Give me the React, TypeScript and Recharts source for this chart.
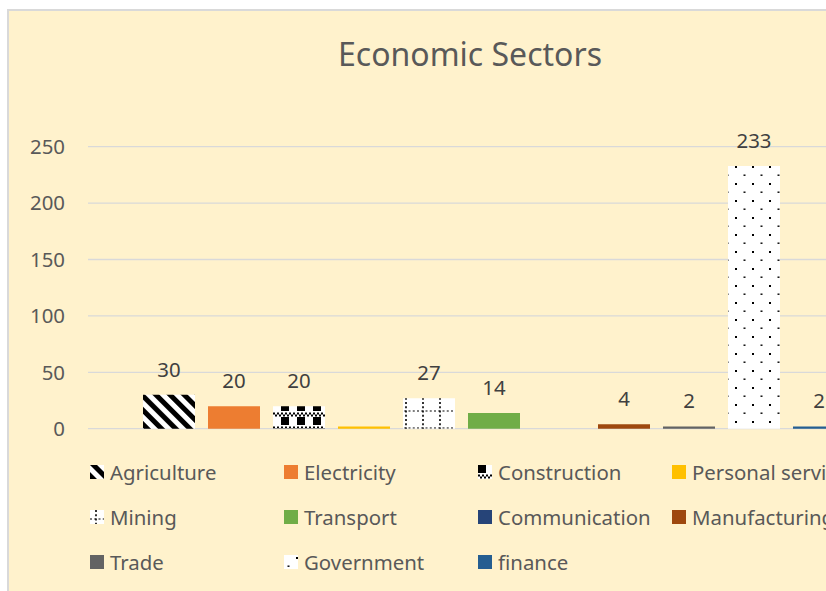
import React from 'react'
import { BarChart, Bar, XAxis, YAxis, CartesianGrid, LabelList } from 'recharts'

const sectors = [
  'Agriculture',
  'Electricity',
  'Construction',
  'Personal services',
  'Mining',
  'Transport',
  'Communication',
  'Manufacturing',
  'Trade',
  'Government',
  'finance'
]
const counts = [30, 20, 20, 2, 27, 14, 0, 4, 2, 233, 2]
const labelShown = [true, true, true, false, true, true, false, true, true, true, true]
const fills = [
  'url(#pAgri)',
  '#ED7D31',
  'url(#pCons)',
  '#FFC000',
  'url(#pMin)',
  '#70AD47',
  '#264478',
  '#9E480E',
  '#636363',
  'url(#pGov)',
  '#255E91'
]
const yTicks = [0, 50, 100, 150, 200, 250]

const chartData = [
  { name: 'Sectors', ...Object.fromEntries(sectors.map((s, i) => [s, counts[i]])) }
]

const FONT = '"Noto Sans", sans-serif'
const TEXT = '#595959'

// svg fill patterns, shared by the bars and the legend keys
function Patterns() {
  const checker = []
  for (let i = 0; i < 8; i++) {
    for (let j = 0; j < 2; j++) {
      if ((i + j) % 2 === 0) {
        checker.push(<rect key={`${i}-${j}`} x={i * 2} y={9.5 + j * 2} width={2} height={2} fill="#000" />)
      }
    }
  }
  return (
    <svg width={0} height={0} style={{ position: 'absolute' }}>
      <defs>
        <pattern id="pAgri" patternUnits="userSpaceOnUse" width={10} height={10} patternTransform="rotate(-45)">
          <rect width={10} height={10} fill="#fff" />
          <rect width={5} height={10} fill="#000" />
        </pattern>
        <pattern id="pCons" patternUnits="userSpaceOnUse" width={16} height={14}>
          <rect width={16} height={14} fill="#fff" />
          <rect width={8} height={8} fill="#000" />
          {checker}
        </pattern>
        <pattern id="pMin" patternUnits="userSpaceOnUse" width={17} height={17}>
          <rect width={17} height={17} fill="#fff" />
          <line x1={6} y1={0} x2={6} y2={17} stroke="#000" strokeWidth={1.6} strokeDasharray="2 2.25" />
          <line x1={0} y1={9} x2={17} y2={9} stroke="#000" strokeWidth={1.2} strokeDasharray="2 2.25" />
        </pattern>
        <pattern id="pGov" patternUnits="userSpaceOnUse" width={17} height={17}>
          <rect width={17} height={17} fill="#fff" />
          <rect x={12} y={2} width={2} height={2} fill="#000" />
          <rect x={3.5} y={10.5} width={2} height={1.4} fill="#000" />
        </pattern>
      </defs>
    </svg>
  )
}

function SectorLegend() {
  return (
    <div
      style={{
        position: 'absolute',
        left: 81,
        top: 438,
        width: 776,
        display: 'flex',
        flexWrap: 'wrap',
        fontFamily: FONT,
        fontSize: 20.4,
        color: TEXT
      }}
    >
      {sectors.map((s, i) => (
        <div key={s} style={{ width: 194, height: 45, display: 'flex', alignItems: 'center', whiteSpace: 'nowrap' }}>
          <svg width={14} height={14} style={{ marginRight: 6, flex: 'none' }}>
            <rect width={14} height={14} fill={fills[i]} />
          </svg>
          <span>{s}</span>
        </div>
      ))}
    </div>
  )
}

export default function App() {
  return (
    <div style={{ position: 'fixed', left: 0, top: 0, width: 826, height: 591, overflow: 'hidden', background: '#fff' }}>
      <Patterns />
      <div
        style={{
          position: 'absolute',
          left: 7,
          top: 9,
          width: 922,
          height: 600,
          borderLeft: '2px solid #D9D9D9',
          borderTop: '2px solid #D9D9D9',
          borderRight: '2px solid #D9D9D9',
          background: '#FFF2CC'
        }}
      >
        <div
          style={{
            position: 'absolute',
            left: 0,
            top: 27,
            width: 922,
            textAlign: 'center',
            fontFamily: FONT,
            fontSize: 32,
            lineHeight: '32px',
            color: TEXT
          }}
        >
          Economic Sectors
        </div>
        <BarChart
          width={922}
          height={580}
          data={chartData}
          barSize={52}
          barGap={13}
          margin={{ top: 135.7, right: 31, left: 0, bottom: 162.3 }}
        >
          <CartesianGrid vertical={false} stroke="#D9D9D9" strokeWidth={1.3} />
          <XAxis dataKey="name" hide />
          <YAxis
            width={79}
            domain={[0, 250]}
            ticks={yTicks}
            axisLine={false}
            tickLine={false}
            tickSize={0}
            tickMargin={23}
            tick={{ fill: TEXT, fontSize: 20.4, fontFamily: FONT }}
          />
          {sectors.map((s, i) => (
            <Bar key={s} dataKey={s} fill={fills[i]} isAnimationActive={false}>
              {labelShown[i] && (
                <LabelList
                  dataKey={s}
                  position="top"
                  offset={18}
                  fill="#404040"
                  fontSize={20.4}
                  fontFamily={FONT}
                />
              )}
            </Bar>
          ))}
        </BarChart>
        <SectorLegend />
      </div>
    </div>
  )
}
